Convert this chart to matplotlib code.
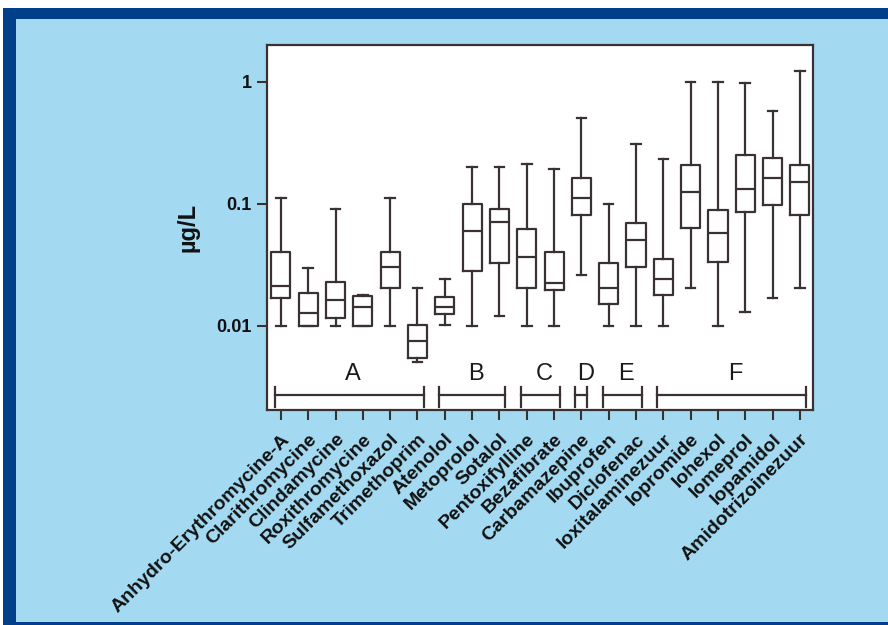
import matplotlib
matplotlib.use("Agg")
import matplotlib.pyplot as plt
from matplotlib.patches import Rectangle
import matplotlib.transforms as mtransforms

plt.rcParams['font.family'] = ['Liberation Sans', 'DejaVu Sans']

names = ["Anhydro-Erythromycine-A", "Clarithromycine", "Clindamycine", "Roxithromycine",
         "Sulfamethoxazol", "Trimethoprim", "Atenolol", "Metoprolol", "Sotalol",
         "Pentoxifylline", "Bezafibrate", "Carbamazepine", "Ibuprofen", "Diclofenac",
         "Ioxitalaminezuur", "Iopromide", "Iohexol", "Iomeprol", "Iopamidol",
         "Amidotrizoinezuur"]
whisk_lo = [0.010, 0.010, 0.010, 0.010, 0.010, 0.0051, 0.0102, 0.010, 0.0121, 0.010,
            0.010, 0.0262, 0.010, 0.010, 0.010, 0.0204, 0.010, 0.0131, 0.0171, 0.0204]
q1 = [0.0169, 0.010, 0.0117, 0.010, 0.0204, 0.00543, 0.0125, 0.0282, 0.0327, 0.0204,
      0.0197, 0.0813, 0.0151, 0.0303, 0.0180, 0.0632, 0.0337, 0.0855, 0.0982, 0.0813]
med = [0.0214, 0.0127, 0.0163, 0.0144, 0.0306, 0.00753, 0.0144, 0.0604, 0.0708, 0.0366,
       0.0224, 0.111, 0.0204, 0.0507, 0.0241, 0.126, 0.0575, 0.132, 0.162, 0.152]
q3 = [0.0407, 0.0185, 0.0231, 0.0177, 0.0407, 0.0102, 0.0172, 0.100, 0.0905, 0.0624,
      0.0407, 0.162, 0.0327, 0.0703, 0.0352, 0.209, 0.0893, 0.252, 0.237, 0.209]
whisk_hi = [0.111, 0.030, 0.0905, 0.018, 0.111, 0.0204, 0.0241, 0.200, 0.200, 0.211,
            0.192, 0.504, 0.100, 0.310, 0.232, 1.0, 1.0, 0.976, 0.578, 1.215]
group_labels = ["A", "B", "C", "D", "E", "F"]
group_sizes = [6, 3, 2, 1, 2, 6]
ytick_vals = [0.01, 0.1, 1]
ytick_labels = ["0.01", "0.1", "1"]

LIGHT = "#A3DAF2"
DARK = "#013F8B"
INK = "#3a3232"

fig = plt.figure(figsize=(8.88, 6.25), dpi=100)
fig.patch.set_facecolor("white")
W, H = 888.0, 625.0
def frect(x0, y0, x1, y1, color):
    # pixel coords from top-left
    fig.patches.append(Rectangle((x0 / W, 1 - y1 / H), (x1 - x0) / W, (y1 - y0) / H,
                                 transform=fig.transFigure, color=color, zorder=-10, lw=0))
frect(3, 8, 888, 625, DARK)
frect(16, 19, 888, 622, LIGHT)

ax = fig.add_axes([267 / W, 1 - 410 / H, 546 / W, 365 / H])
ax.set_facecolor("white")

stats = []
for i in range(len(names)):
    stats.append(dict(whislo=whisk_lo[i], q1=q1[i], med=med[i], q3=q3[i],
                      whishi=whisk_hi[i], fliers=[], label=names[i]))
pos = list(range(1, len(names) + 1))
lp = dict(color=INK, linewidth=1.6)
ax.bxp(stats, positions=pos, widths=0.7, showfliers=False,
       boxprops=lp, medianprops=lp, whiskerprops=lp, capprops=lp, capwidths=0.35)

ax.set_yscale("log")
ax.set_ylim(0.00205, 2.0)
ax.set_xlim(0.49, 20.48)
ax.set_yticks(ytick_vals)
ax.set_yticklabels(ytick_labels, fontsize=13, fontweight="bold", color="#111111")
ax.yaxis.set_minor_locator(matplotlib.ticker.NullLocator())
ax.set_xticks(pos)
ax.set_xticklabels(names, rotation=45, ha="right", rotation_mode="anchor",
                   fontsize=14, fontweight="bold", color="#111111")
ax.tick_params(axis="both", direction="out", length=7, width=1.5, color=INK, pad=4)
ax.tick_params(axis="x", pad=8)
for s in ax.spines.values():
    s.set_color(INK)
    s.set_linewidth(1.6)
ax.set_ylabel("µg/L", fontsize=17, fontweight="bold", labelpad=12, color="#111111")

trans = mtransforms.blended_transform_factory(ax.transData, ax.transAxes)
start = 1
for lab, n in zip(group_labels, group_sizes):
    a = start - 0.22
    b = start + n - 1 + 0.22
    ax.plot([a, b], [0.041, 0.041], transform=trans, color=INK, lw=1.6, clip_on=False)
    ax.plot([a, a], [0.009, 0.064], transform=trans, color=INK, lw=1.6)
    ax.plot([b, b], [0.009, 0.064], transform=trans, color=INK, lw=1.6)
    ax.text((a + b) / 2 + 0.15, 0.10, lab, transform=trans, ha="center", va="center",
            fontsize=17, color="#1a1a1a")
    start += n

fig.savefig("out.png", dpi=100, facecolor=fig.get_facecolor())
